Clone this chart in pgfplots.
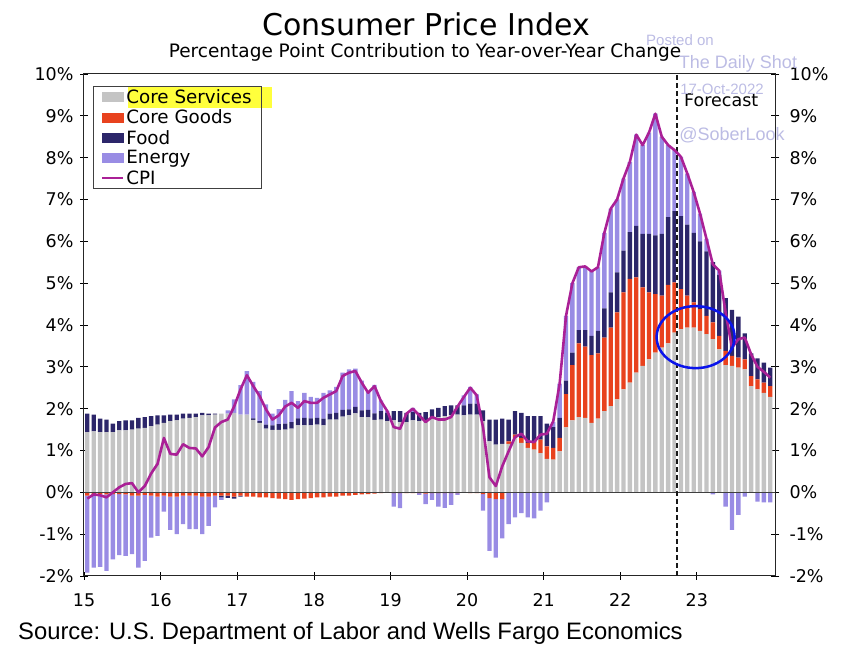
\documentclass[border=0pt]{standalone}
\usepackage{pgfplots}
\pgfplotsset{compat=1.18}
\usepackage{pgfplotstable}
\usepackage{fontspec}
\setmainfont{DejaVu Sans}
\newfontfamily\arialf{Liberation Sans}

\definecolor{svc}{RGB}{196,196,196}
\definecolor{goods}{RGB}{232,66,30}
\definecolor{food}{RGB}{44,38,106}
\definecolor{energy}{RGB}{153,140,228}
\definecolor{cpi}{RGB}{170,32,150}
\definecolor{wm}{RGB}{188,188,228}
\definecolor{hl}{RGB}{255,255,60}
\definecolor{ell}{RGB}{10,20,235}

\pgfplotstableread{
m S G F E C
0 1.44 -0.08 0.44 -1.84 -0.15
1 1.46 -0.06 0.40 -1.74 -0.05
2 1.44 -0.05 0.32 -1.73 -0.07
3 1.44 -0.05 0.30 -1.83 -0.12
4 1.44 -0.04 0.20 -1.56 0.00
5 1.48 -0.04 0.22 -1.46 0.12
6 1.48 -0.05 0.24 -1.47 0.20
7 1.50 -0.08 0.22 -1.40 0.22
8 1.52 -0.08 0.26 -1.72 0.00
9 1.54 -0.06 0.26 -1.58 0.15
10 1.58 -0.08 0.24 -1.00 0.45
11 1.62 -0.10 0.22 -0.94 0.68
12 1.66 -0.08 0.18 -0.38 1.30
13 1.70 -0.10 0.16 -0.80 0.92
14 1.72 -0.10 0.14 -0.90 0.90
15 1.76 -0.08 0.12 -0.68 1.15
16 1.78 -0.08 0.10 -0.80 1.06
17 1.80 -0.08 0.08 -0.80 1.05
18 1.84 -0.10 0.06 -0.90 0.86
19 1.84 -0.10 0.04 -0.70 1.08
20 1.86 -0.08 0.02 -0.28 1.55
21 1.88 -0.08 -0.04 -0.06 1.68
22 1.88 -0.08 -0.05 0.08 1.74
23 1.90 -0.10 -0.05 0.32 2.05
24 1.86 -0.08 -0.02 0.70 2.46
25 1.86 -0.10 0.00 1.04 2.80
26 1.73 -0.10 0.04 0.87 2.54
27 1.66 -0.12 0.04 0.72 2.30
28 1.52 -0.12 0.10 0.48 1.98
29 1.49 -0.14 0.11 0.28 1.74
30 1.49 -0.15 0.14 0.36 1.84
31 1.50 -0.16 0.14 0.57 2.05
32 1.52 -0.18 0.16 0.74 2.14
33 1.60 -0.16 0.17 0.41 2.02
34 1.60 -0.15 0.18 0.60 2.18
35 1.60 -0.14 0.17 0.51 2.14
36 1.62 -0.12 0.16 0.48 2.14
37 1.60 -0.12 0.16 0.62 2.26
38 1.74 -0.10 0.14 0.56 2.34
39 1.74 -0.10 0.16 0.62 2.42
40 1.81 -0.08 0.16 0.89 2.78
41 1.84 -0.08 0.14 0.96 2.86
42 1.89 -0.06 0.15 0.92 2.90
43 1.80 -0.05 0.16 0.71 2.62
44 1.79 -0.04 0.18 0.45 2.38
45 1.73 -0.03 0.16 0.68 2.54
46 1.74 -0.02 0.20 0.26 2.18
47 1.70 -0.01 0.20 0.05 1.94
48 1.72 -0.02 0.22 -0.32 1.56
49 1.68 -0.02 0.26 -0.36 1.52
50 1.68 -0.02 0.22 0.00 1.88
51 1.72 -0.02 0.20 0.10 2.00
52 1.70 -0.02 0.20 -0.04 1.84
53 1.72 -0.03 0.20 -0.25 1.68
54 1.76 -0.02 0.22 -0.16 1.80
55 1.80 -0.02 0.22 -0.32 1.74
56 1.82 -0.02 0.24 -0.35 1.74
57 1.84 -0.02 0.24 -0.28 1.80
58 1.86 -0.02 0.22 -0.04 2.05
59 1.84 -0.01 0.24 0.24 2.28
60 1.86 -0.02 0.26 0.40 2.50
61 1.86 -0.02 0.26 0.22 2.32
62 1.70 -0.04 0.26 -0.40 1.55
63 1.22 -0.14 0.52 -1.26 0.36
64 1.14 -0.16 0.60 -1.40 0.15
65 1.16 -0.16 0.60 -0.94 0.62
66 1.16 0.06 0.52 -0.76 0.98
67 1.30 0.08 0.56 -0.60 1.32
68 1.18 0.12 0.60 -0.50 1.40
69 1.06 0.12 0.64 -0.60 1.22
70 1.02 0.20 0.60 -0.62 1.20
71 0.94 0.32 0.56 -0.44 1.38
72 0.80 0.30 0.54 -0.24 1.40
73 0.78 0.28 0.50 0.12 1.70
74 0.98 0.32 0.48 0.82 2.60
75 1.55 0.80 0.32 1.55 4.22
76 1.72 1.32 0.30 1.66 5.00
77 1.80 1.76 0.32 1.50 5.38
78 1.78 1.70 0.40 1.52 5.40
79 1.66 1.62 0.46 1.54 5.28
80 1.76 1.56 0.54 1.52 5.38
81 1.94 1.76 0.70 1.80 6.20
82 2.06 1.88 0.84 2.00 6.78
83 2.22 2.08 0.96 1.74 7.00
84 2.46 2.32 1.00 1.72 7.50
85 2.62 2.48 1.12 1.68 7.90
86 2.86 2.28 1.23 2.18 8.55
87 3.02 1.88 1.28 2.12 8.30
88 3.18 1.60 1.40 2.42 8.60
89 3.34 1.40 1.40 2.91 9.05
90 3.46 1.24 1.48 2.32 8.50
91 3.56 1.40 1.62 1.72 8.30
92 3.82 1.20 1.70 1.46 8.18
93 3.90 0.96 1.74 1.42 8.02
94 3.94 0.76 1.70 1.22 7.62
95 3.94 0.60 1.66 0.98 7.18
96 3.86 0.52 1.62 0.66 6.66
97 3.78 0.44 1.54 0.30 6.06
98 3.66 0.40 1.44 -0.05 5.45
99 3.42 0.32 1.46 0.10 5.30
100 3.04 0.34 1.26 -0.34 4.30
101 3.02 0.24 1.10 -0.90 3.46
102 2.98 0.24 0.98 -0.54 3.66
103 2.94 0.24 0.62 -0.10 3.70
104 2.54 0.24 0.54 0.00 3.30
105 2.46 0.24 0.50 -0.22 3.00
106 2.38 0.24 0.48 -0.24 2.88
107 2.28 0.26 0.44 -0.24 2.74
}\data

\pgfplotsset{
  base/.style={
    scale only axis, width=691pt, height=502pt,
    xmin=-0.52, xmax=107.74, ymin=-2, ymax=10,
    enlargelimits=false,
    at={(84pt,79pt)}, anchor=south west,
  },
  ticks/.style={
    ytick={-2,-1,0,1,2,3,4,5,6,7,8,9,10},
    yticklabels={-2\%,-1\%,0\%,1\%,2\%,3\%,4\%,5\%,6\%,7\%,8\%,9\%,10\%},
    tick align=center, major tick length=8pt,
    tick style={black, line width=0.8pt},
    axis line style={black!85, line width=1pt},
    ticklabel style={font=\fontsize{17.5}{21}\selectfont},
  },
}

\begin{document}
\begin{tikzpicture}
\useasboundingbox (0,0) rectangle (846pt,655pt);
\fill[hl] (128pt,547pt) rectangle (272pt,568pt);

% negative contributions
\begin{axis}[base, ticks, ybar stacked, bar width=0.68,
  xtick={-0.5,11.5,23.5,35.5,47.5,59.5,71.5,83.5,95.5},
  xticklabels={15,16,17,18,19,20,21,22,23},
  xtick pos=left, ytick pos=both, yticklabel pos=left,
  yticklabel style={xshift=-3pt},
  xticklabel style={yshift=-10pt},
]
\addplot[fill=goods, draw=none] table[x=m, y expr={min(\thisrow{G},0)}] {\data};
\addplot[fill=food, draw=none] table[x=m, y expr={min(\thisrow{F},0)}] {\data};
\addplot[fill=energy, draw=none] table[x=m, y expr={min(\thisrow{E},0)}] {\data};
\end{axis}

% positive contributions
\begin{axis}[base, ticks, ybar stacked, bar width=0.68,
  axis x line=none, axis y line*=right,
  yticklabel style={xshift=7pt},
]
\addplot[fill=svc, draw=none] table[x=m, y expr={max(\thisrow{S},0)}] {\data};
\addplot[fill=goods, draw=none] table[x=m, y expr={max(\thisrow{G},0)}] {\data};
\addplot[fill=food, draw=none] table[x=m, y expr={max(\thisrow{F},0)}] {\data};
\addplot[fill=energy, draw=none] table[x=m, y expr={max(\thisrow{E},0)}] {\data};
\end{axis}

% CPI line, markers, legend
\begin{axis}[base, hide axis,
  legend style={at={(0.013,0.976)}, anchor=north west, draw=black!75,
    line width=0.8pt, fill=none, font=\fontsize{18.3}{20}\selectfont,
    inner xsep=8pt, inner ysep=1pt, row sep=1pt,
    /tikz/every even column/.append style={column sep=0pt}},
  legend cell align=left,
]
\addlegendimage{legend image code/.code={\fill[svc] (0pt,-4.5pt) rectangle (21pt,4.5pt);}}
\addlegendentry{Core Services}
\addlegendimage{legend image code/.code={\fill[goods] (0pt,-4.5pt) rectangle (21pt,4.5pt);}}
\addlegendentry{Core Goods}
\addlegendimage{legend image code/.code={\fill[food] (0pt,-4.5pt) rectangle (21pt,4.5pt);}}
\addlegendentry{Food}
\addlegendimage{legend image code/.code={\fill[energy] (0pt,-4.5pt) rectangle (21pt,4.5pt);}}
\addlegendentry{Energy}
\addlegendimage{legend image code/.code={\draw[cpi, line width=2pt] (0pt,0pt) -- (21pt,0pt);}}
\addlegendentry{CPI}
\draw[black!75, line width=1.1pt] (axis cs:-0.52,0) -- (axis cs:107.74,0);
\draw[white, line width=2pt] (axis cs:92.46,-2) -- (axis cs:92.46,10);
\draw[black!90, line width=2pt, dash pattern=on 5pt off 3pt] (axis cs:92.46,-2) -- (axis cs:92.46,10);
\addplot[cpi, line width=2.6pt, mark=none, line join=round, forget plot] table[x=m, y=C] {\data};
\draw[ell, line width=2.5pt] (axis cs:95.3,3.71) ellipse [x radius=39pt, y radius=31pt];
\end{axis}

% titles and annotations
\node[font=\fontsize{30}{36}\selectfont] at (426pt,631pt) {Consumer Price Index};
\node[font=\fontsize{18.5}{22}\selectfont] at (425pt,603pt) {Percentage Point Contribution to Year-over-Year Change};
\node[anchor=west, inner sep=0pt, font=\arialf\fontsize{23.8}{28}\selectfont] at (18pt,22pt) {Source: U.S. Department of Labor and Wells Fargo Economics};
\node[anchor=west, inner sep=0pt, font=\fontsize{17.5}{21}\selectfont] at (684pt,555pt) {Forecast};
\node[wm, font=\arialf\fontsize{15}{18}\selectfont] at (680pt,615pt) {Posted on};
\node[wm, font=\arialf\fontsize{18}{21}\selectfont] at (738pt,591pt) {The Daily Shot};
\node[wm, font=\arialf\fontsize{15}{18}\selectfont] at (722pt,566pt) {17-Oct-2022};
\node[wm, font=\arialf\fontsize{18}{21}\selectfont] at (732pt,520pt) {@SoberLook};
\end{tikzpicture}
\end{document}
